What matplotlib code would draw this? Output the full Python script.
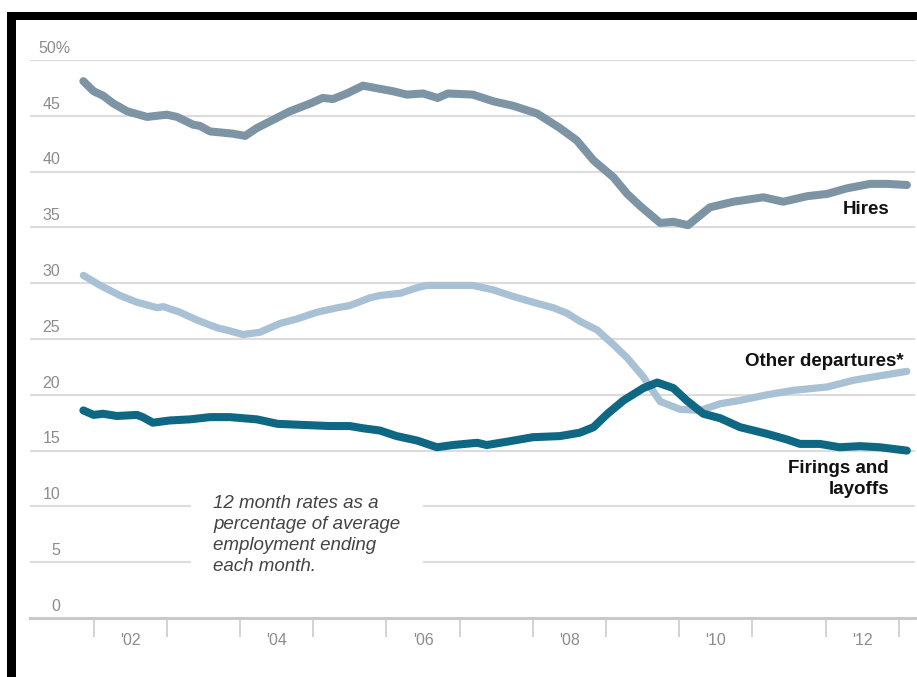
import matplotlib
matplotlib.use('Agg')
import matplotlib.pyplot as plt
from matplotlib.patches import Rectangle
from matplotlib.transforms import blended_transform_factory, offset_copy

# values (decimal year, % of average employment)
hires_t = [2001.86, 2002.00, 2002.13, 2002.27, 2002.46, 2002.73, 2003.00, 2003.14, 2003.36, 2003.45,
           2003.59, 2003.90, 2004.07, 2004.23, 2004.41, 2004.68, 2004.96, 2005.13, 2005.27, 2005.46,
           2005.68, 2006.09, 2006.28, 2006.50, 2006.70, 2006.84, 2007.18, 2007.46, 2007.73, 2008.06,
           2008.37, 2008.60, 2008.83, 2009.10, 2009.29, 2009.47, 2009.74, 2009.92, 2010.12, 2010.42,
           2010.74, 2011.15, 2011.42, 2011.75, 2012.02, 2012.29, 2012.61, 2012.84, 2013.11]
hires = [48.1, 47.2, 46.8, 46.1, 45.4, 44.9, 45.1, 44.9, 44.2, 44.1,
         43.6, 43.4, 43.2, 43.9, 44.5, 45.4, 46.1, 46.6, 46.5, 47.0,
         47.7, 47.2, 46.9, 47.0, 46.6, 47.0, 46.9, 46.3, 45.9, 45.2,
         43.9, 42.8, 41.0, 39.5, 38.0, 36.9, 35.4, 35.5, 35.2, 36.8,
         37.3, 37.7, 37.3, 37.8, 38.0, 38.5, 38.9, 38.9, 38.8]

other_t = [2001.86, 2002.09, 2002.36, 2002.59, 2002.87, 2002.95, 2003.18, 2003.41, 2003.69, 2003.82,
           2004.04, 2004.27, 2004.55, 2004.78, 2005.05, 2005.33, 2005.50, 2005.78, 2005.91, 2006.19,
           2006.42, 2006.55, 2006.83, 2007.18, 2007.46, 2007.69, 2008.00, 2008.28, 2008.47, 2008.64,
           2008.88, 2009.10, 2009.29, 2009.51, 2009.74, 2010.01, 2010.29, 2010.56, 2010.83, 2011.20,
           2011.56, 2012.02, 2012.38, 2012.74, 2013.11]
other = [30.7, 29.8, 28.9, 28.3, 27.8, 27.9, 27.4, 26.7, 26.0, 25.8,
         25.4, 25.6, 26.4, 26.8, 27.4, 27.8, 28.0, 28.7, 28.9, 29.1,
         29.6, 29.8, 29.8, 29.8, 29.4, 28.9, 28.3, 27.8, 27.3, 26.6,
         25.8, 24.5, 23.3, 21.6, 19.4, 18.7, 18.6, 19.2, 19.5, 20.0,
         20.4, 20.7, 21.3, 21.7, 22.1]

fired_t = [2001.86, 2002.00, 2002.13, 2002.32, 2002.59, 2002.67, 2002.81, 2003.04, 2003.32, 2003.59,
           2003.86, 2004.23, 2004.51, 2004.86, 2005.23, 2005.50, 2005.68, 2005.91, 2006.14, 2006.42,
           2006.69, 2006.91, 2007.24, 2007.37, 2007.65, 2008.00, 2008.37, 2008.64, 2008.83, 2009.02,
           2009.24, 2009.51, 2009.70, 2009.92, 2010.10, 2010.33, 2010.56, 2010.83, 2011.20, 2011.47,
           2011.65, 2011.92, 2012.19, 2012.47, 2012.74, 2013.11]
fired = [18.6, 18.2, 18.3, 18.1, 18.2, 18.0, 17.5, 17.7, 17.8, 18.0,
         18.0, 17.8, 17.4, 17.3, 17.2, 17.2, 17.0, 16.8, 16.3, 15.9,
         15.3, 15.5, 15.7, 15.5, 15.8, 16.2, 16.3, 16.6, 17.1, 18.3,
         19.5, 20.6, 21.1, 20.6, 19.5, 18.3, 17.9, 17.1, 16.5, 16.0,
         15.6, 15.6, 15.3, 15.4, 15.3, 15.0]

y_ticks = [0, 5, 10, 15, 20, 25, 30, 35, 40, 45, 50]
year_ticks = list(range(2002, 2014))
year_labels = ["'02", "'04", "'06", "'08", "'10", "'12"]
note = "12 month rates as a\npercentage of average\nemployment ending\neach month."

W, H = 917, 677
plt.rcParams['font.family'] = ['Liberation Sans', 'DejaVu Sans']

fig = plt.figure(figsize=(W / 100, H / 100), dpi=100)
fig.patch.set_facecolor('white')

# axes box in pixels: x 30..915, y 60 (50%) .. 618 (0)
ax = fig.add_axes([30 / W, 1 - 618 / H, (915 - 30) / W, (618 - 60) / H])
ax.set_xlim(2001.131, 2013.221)
ax.set_ylim(0, 50)

for s in ['top', 'right', 'left']:
    ax.spines[s].set_visible(False)
ax.spines['bottom'].set_color('#c9c9c9')
ax.spines['bottom'].set_linewidth(2.2)

ax.set_yticks(y_ticks)
ax.tick_params(axis='y', length=0, labelleft=False)
ax.grid(axis='y', color='#dcdcdc', linewidth=1.5)
ax.grid(axis='x', visible=False)
ax.set_axisbelow(True)

ax.set_xticks(year_ticks)
ax.set_xticklabels([])
ax.tick_params(axis='x', which='major', direction='out', length=14, width=1.2, color='#cccccc')
ax.set_xticks([y + 0.5 for y in range(2002, 2013, 2)], minor=True)
ax.set_xticklabels(year_labels, minor=True, fontsize=11.5, color='#8c8c8c')
ax.tick_params(axis='x', which='minor', length=0, pad=11)

# y labels above their gridlines
lab_tr = offset_copy(blended_transform_factory(fig.transFigure, ax.transData), fig=fig, y=3, units='points')
for v in y_ticks:
    if v == 50:
        ax.text(38 / W, v, '50%', transform=lab_tr, ha='left', va='bottom',
                fontsize=11.5, color='#8c8c8c')
    else:
        ax.text(60 / W, v, str(v), transform=lab_tr, ha='right', va='bottom',
                fontsize=11.5, color='#8c8c8c')

ax.plot(hires_t, hires, color='#7d94a5', lw=5.8, solid_capstyle='round', solid_joinstyle='round', zorder=3)
ax.plot(other_t, other, color='#a9c1d4', lw=5.2, solid_capstyle='round', solid_joinstyle='round', zorder=3)
ax.plot(fired_t, fired, color='#0e6883', lw=5.8, solid_capstyle='round', solid_joinstyle='round', zorder=4)

fig.text(890 / W, 1 - 210 / H, 'Hires', ha='right', va='center', fontsize=13.5, fontweight='bold', color='#111111')
fig.text(904 / W, 1 - 362 / H, 'Other departures*', ha='right', va='center', fontsize=13.5,
         fontweight='bold', color='#111111')
fig.text(889 / W, 1 - 479 / H, 'Firings and\nlayoffs', ha='right', va='center', fontsize=13.5,
         fontweight='bold', color='#111111', linespacing=1.25, multialignment='right')

fig.text(213 / W, 1 - 495 / H, note, ha='left', va='top', fontsize=13.5, style='italic',
         color='#444444', linespacing=1.32,
         bbox=dict(boxstyle='square,pad=1.2', facecolor='white', edgecolor='none'))

# black frame pieces at top and left
fig.patches.append(Rectangle((7 / W, 1 - 20 / H), 1, 8 / H, transform=fig.transFigure,
                             facecolor='black', edgecolor='none'))
fig.patches.append(Rectangle((7 / W, 0), 9 / W, 1 - 12 / H, transform=fig.transFigure,
                             facecolor='black', edgecolor='none'))

fig.savefig('out.png', dpi=100)
